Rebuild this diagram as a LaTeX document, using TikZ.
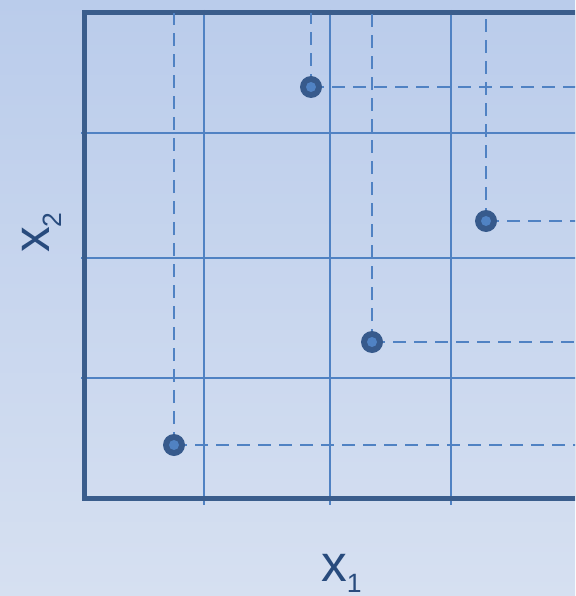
\documentclass[tikz,border=0pt]{standalone}
\usepackage{fontspec}
\setmainfont{Liberation Sans}
\definecolor{bgtop}{RGB}{186,204,235}
\definecolor{bgbot}{RGB}{214,224,241}
\definecolor{framecol}{RGB}{58,93,140}
\definecolor{gridcol}{RGB}{80,130,195}
\definecolor{dotout}{RGB}{55,90,140}
\definecolor{txtcol}{RGB}{40,75,125}
\tikzset{
  framebox/.style={draw=framecol,line width=5pt},
  gridline/.style={draw=gridcol,line width=1.8pt},
  proj/.style={draw=gridcol,line width=1.8pt,dash pattern=on 13pt off 8pt},
  sample/.style={circle,fill=dotout,minimum size=22pt,inner sep=0pt,
    path picture={\fill[gridcol] (path picture bounding box.center) circle (5pt);}},
  axlabel/.style={text=txtcol,inner sep=0pt,font=\fontsize{51.5}{56}\selectfont},
}
\begin{document}
\begin{tikzpicture}[x=1pt,y=-1pt]
\useasboundingbox (0,0) rectangle (575,596);
\clip (0,0) rectangle (575,596);
\shade[top color=bgtop,bottom color=bgbot] (0,0) rectangle (575,596);
% grid
\draw[gridline] (204,10) -- (204,505);
\draw[gridline] (330,10) -- (330,505);
\draw[gridline] (451,10) -- (451,505);
\draw[gridline] (81,133) -- (580,133);
\draw[gridline] (81,258) -- (580,258);
\draw[gridline] (81,378) -- (580,378);
% frame
\draw[framebox] (84,13) rectangle (577,498);
% edge coordinates
\coordinate (ta) at (311,13);
\coordinate (tb) at (486,13);
\coordinate (tc) at (372,13);
\coordinate (td) at (174,13);
\coordinate (ra) at (580,87);
\coordinate (rb) at (580,221);
\coordinate (rc) at (580,342);
\coordinate (rd) at (580,445);
\coordinate (pa) at (311,87);
\coordinate (pb) at (486,221);
\coordinate (pc) at (372,342);
\coordinate (pd) at (174,445);
% projections
\foreach \p in {a,b,c,d}{
  \draw[proj] (p\p) -- (t\p);
  \draw[proj] (p\p) -- (r\p);
}
% samples
\node[sample] (sa) at (pa) {};
\node[sample] (sb) at (pb) {};
\node[sample] (sc) at (pc) {};
\node[sample] (sd) at (pd) {};
% labels
\node[axlabel,anchor=base west] (xone) at (321,581) {x\raisebox{-11pt}{\fontsize{26.5}{30}\selectfont 1}};
\node[axlabel,anchor=base west,rotate=90] (xtwo) at (49,253) {x\raisebox{-12pt}{\fontsize{26.5}{30}\selectfont 2}};
\end{tikzpicture}
\end{document}
